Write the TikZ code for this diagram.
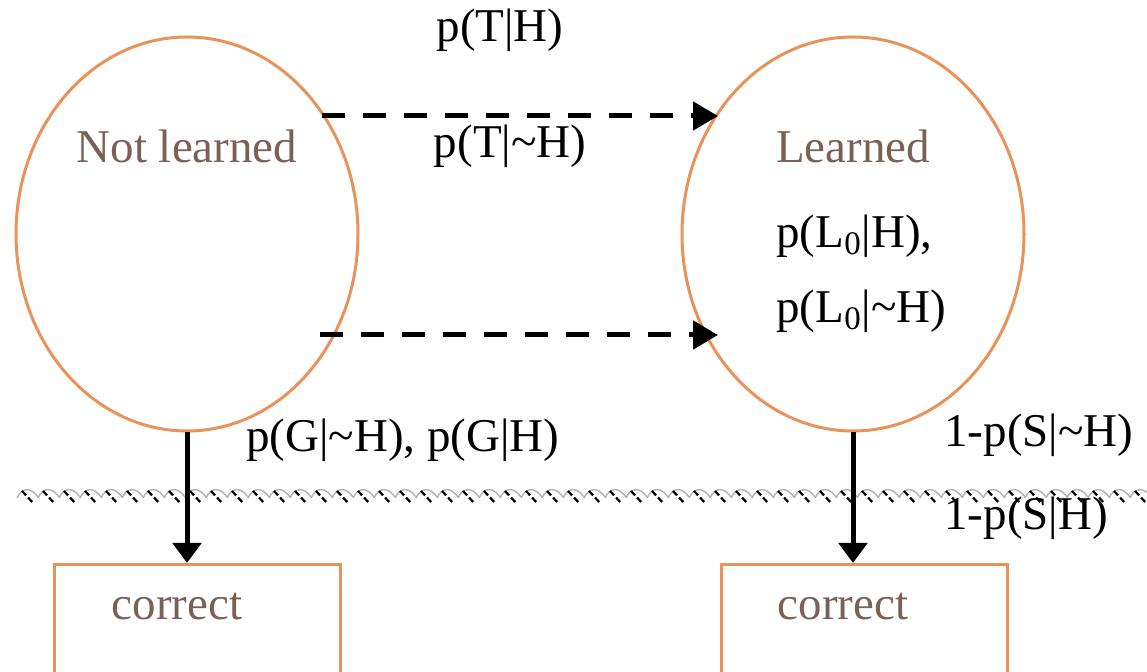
\documentclass[tikz,border=0pt]{standalone}
\usepackage{fontspec}
\setmainfont{Liberation Serif}
\usetikzlibrary{arrows.meta,shapes.geometric}
\definecolor{orng}{HTML}{E8935A}
\definecolor{brwn}{HTML}{7A6157}
\begin{document}
\begin{tikzpicture}[x=0.5pt,y=-0.5pt,
  statebox/.style={draw=orng,line width=1.5pt,ellipse,minimum width=171pt,minimum height=197pt,inner sep=0pt},
  outbox/.style={draw=orng,line width=1.5pt,rectangle,minimum width=143pt,minimum height=80pt,inner sep=0pt,anchor=north west},
  lbl/.style={font=\fontsize{23.5}{28}\selectfont,inner sep=0pt,text=black},
  blbl/.style={lbl,text=brwn},
  dasharrow/.style={line width=2.5pt,dash pattern=on 11.5pt off 9pt,-{Triangle[length=12.5pt,width=14pt]}},
  solidarrow/.style={line width=2.5pt,-{Triangle[length=10pt,width=14pt]}},
  ropearc/.style={gray!60,line width=0.7pt},
  ropedash/.style={black,line width=1.1pt,dash pattern=on 3pt off 1.5pt}]
\useasboundingbox (0,0) rectangle (1147,672);
\clip (0,0) rectangle (1147,672);
% rope line
\foreach \i in {0,...,53} {
  \pgfmathsetmacro\xx{17+21*\i}
  \draw[ropearc] (\xx,498) .. controls (\xx+5,487) and (\xx+14,487) .. (\xx+21,497);
  \draw[ropedash] (\xx+5,491) -- (\xx+17,504);
}
% states
\node[statebox] (nl) at (187,234) {};
\node[statebox] (le) at (853,234) {};
% outcome boxes
\node[outbox] (bl) at (53,563) {};
\node[outbox] (br) at (720,563) {};
% texts
\node[blbl] (tnl) at (187,146) {Not learned};
\node[blbl] (tle) at (853,146) {Learned};
\node[blbl] (tcl) at (177,607) {correct};
\node[blbl] (tcr) at (843,607) {correct};
\node[lbl] (tth) at (500,30) {p(T|H)};
\node[lbl] (ttnh) at (510,146) {p(T|\textasciitilde H)};
\node[lbl,anchor=west] (tl0) at (776,236) {p(L\textsubscript{0}|H),};
\node[lbl,anchor=west] (tl0n) at (776,311) {p(L\textsubscript{0}|\textasciitilde H)};
\node[lbl] (tg) at (403,440) {p(G|\textasciitilde H), p(G|H)};
\node[lbl,anchor=west] (ts1) at (944,435) {1-p(S|\textasciitilde H)};
\node[lbl,anchor=west] (ts2) at (944,518) {1-p(S|H)};
% connectors
\coordinate (a1) at (322,116);
\coordinate (b1) at (718,116);
\coordinate (a2) at (320,335);
\coordinate (b2) at (718,335);
\draw[dasharrow] (a1) -- (b1);
\draw[dasharrow] (a2) -- (b2);
\draw[solidarrow] (nl.south) -- (nl.south |- bl.north);
\draw[solidarrow] (le.south) -- (le.south |- br.north);
\end{tikzpicture}
\end{document}
